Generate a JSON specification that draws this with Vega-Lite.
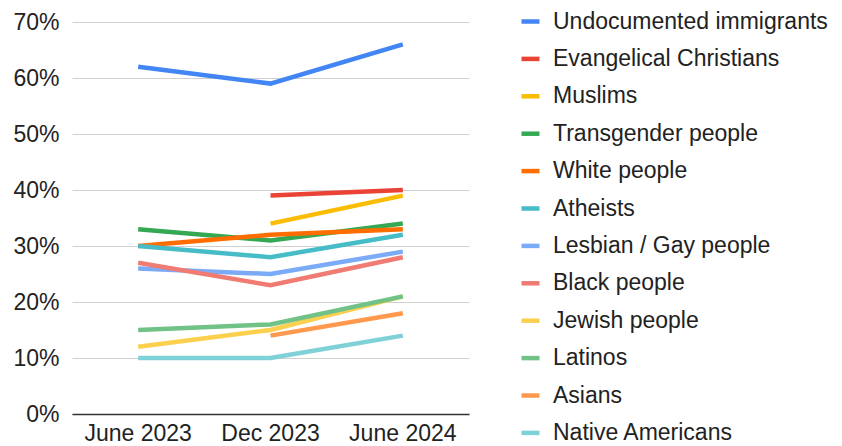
{
  "$schema": "https://vega.github.io/schema/vega-lite/v6.json",
  "autosize": {"type": "none"},
  "width": 397,
  "height": 392,
  "padding": {"left": 72, "top": 22, "right": 373, "bottom": 32},
  "background": "white",
  "config": {
    "font": "Liberation Sans",
    "view": {"stroke": null}
  },
  "data": {
    "values": [
      {"group": "Undocumented immigrants", "period": "June 2023", "share": 62},
      {"group": "Undocumented immigrants", "period": "Dec 2023", "share": 59},
      {"group": "Undocumented immigrants", "period": "June 2024", "share": 66},
      {"group": "Evangelical Christians", "period": "Dec 2023", "share": 39},
      {"group": "Evangelical Christians", "period": "June 2024", "share": 40},
      {"group": "Muslims", "period": "Dec 2023", "share": 34},
      {"group": "Muslims", "period": "June 2024", "share": 39},
      {"group": "Transgender people", "period": "June 2023", "share": 33},
      {"group": "Transgender people", "period": "Dec 2023", "share": 31},
      {"group": "Transgender people", "period": "June 2024", "share": 34},
      {"group": "White people", "period": "June 2023", "share": 30},
      {"group": "White people", "period": "Dec 2023", "share": 32},
      {"group": "White people", "period": "June 2024", "share": 33},
      {"group": "Atheists", "period": "June 2023", "share": 30},
      {"group": "Atheists", "period": "Dec 2023", "share": 28},
      {"group": "Atheists", "period": "June 2024", "share": 32},
      {"group": "Lesbian / Gay people", "period": "June 2023", "share": 26},
      {"group": "Lesbian / Gay people", "period": "Dec 2023", "share": 25},
      {"group": "Lesbian / Gay people", "period": "June 2024", "share": 29},
      {"group": "Black people", "period": "June 2023", "share": 27},
      {"group": "Black people", "period": "Dec 2023", "share": 23},
      {"group": "Black people", "period": "June 2024", "share": 28},
      {"group": "Jewish people", "period": "June 2023", "share": 12},
      {"group": "Jewish people", "period": "Dec 2023", "share": 15},
      {"group": "Jewish people", "period": "June 2024", "share": 21},
      {"group": "Latinos", "period": "June 2023", "share": 15},
      {"group": "Latinos", "period": "Dec 2023", "share": 16},
      {"group": "Latinos", "period": "June 2024", "share": 21},
      {"group": "Asians", "period": "Dec 2023", "share": 14},
      {"group": "Asians", "period": "June 2024", "share": 18},
      {"group": "Native Americans", "period": "June 2023", "share": 10},
      {"group": "Native Americans", "period": "Dec 2023", "share": 10},
      {"group": "Native Americans", "period": "June 2024", "share": 14}
    ]
  },
  "mark": {"type": "line", "strokeWidth": 4.5, "strokeCap": "butt", "strokeJoin": "miter"},
  "encoding": {
    "x": {
      "field": "period",
      "type": "ordinal",
      "sort": ["June 2023", "Dec 2023", "June 2024"],
      "scale": {"type": "band", "paddingInner": 0, "paddingOuter": 0},
      "axis": {
        "title": null,
        "labelAngle": 0,
        "labelFontSize": 23,
        "labelColor": "#222222",
        "labelPadding": 8,
        "ticks": false,
        "domain": true,
        "domainColor": "#333333",
        "domainWidth": 1.5,
        "grid": false
      }
    },
    "y": {
      "field": "share",
      "type": "quantitative",
      "scale": {"domain": [0, 70], "nice": false},
      "axis": {
        "title": null,
        "values": [0, 10, 20, 30, 40, 50, 60, 70],
        "labelExpr": "datum.value + '%'",
        "labelFontSize": 23,
        "labelColor": "#222222",
        "labelPadding": 13,
        "ticks": false,
        "domain": false,
        "grid": true,
        "gridColor": "#d0d0d0",
        "gridWidth": 1.2
      }
    },
    "color": {
      "field": "group",
      "type": "nominal",
      "sort": [
        "Undocumented immigrants", "Evangelical Christians", "Muslims", "Transgender people",
        "White people", "Atheists", "Lesbian / Gay people", "Black people",
        "Jewish people", "Latinos", "Asians", "Native Americans"
      ],
      "scale": {
        "domain": [
          "Undocumented immigrants", "Evangelical Christians", "Muslims", "Transgender people",
          "White people", "Atheists", "Lesbian / Gay people", "Black people",
          "Jewish people", "Latinos", "Asians", "Native Americans"
        ],
        "range": [
          "#4285F4", "#EA4335", "#FBBC04", "#34A853",
          "#FF6D01", "#46BDC6", "#7BAAF7", "#F07B72",
          "#FCD04F", "#71C287", "#FF994D", "#7ED1D7"
        ]
      },
      "legend": {
        "title": null,
        "orient": "none",
        "legendX": 447,
        "legendY": -12,
        "symbolType": "stroke",
        "symbolSize": 324,
        "symbolStrokeWidth": 4.5,
        "labelFontSize": 23,
        "labelColor": "#222222",
        "labelOffset": 11,
        "labelLimit": 400,
        "rowPadding": 13.4,
        "padding": 0
      }
    }
  }
}
